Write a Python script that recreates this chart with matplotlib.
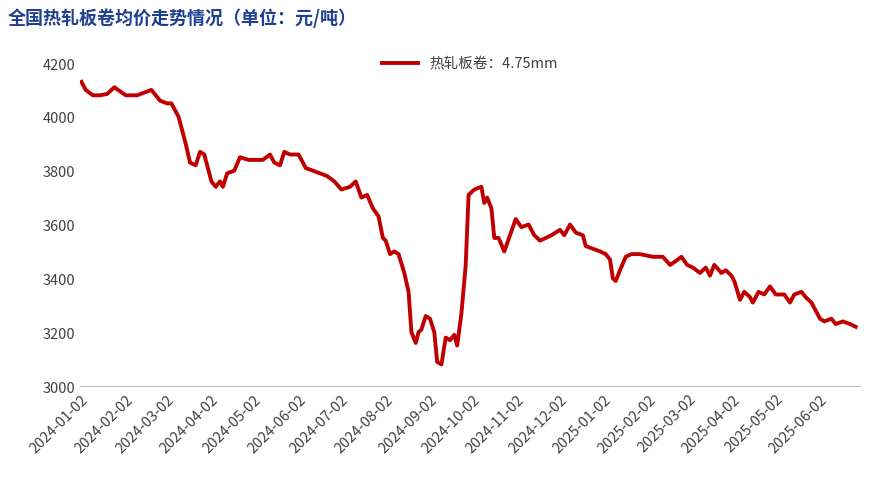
import matplotlib
matplotlib.use("Agg")
import matplotlib.pyplot as plt
import matplotlib.dates as mdates
import pandas as pd

plt.rcParams['font.family'] = ['Noto Sans CJK SC', 'DejaVu Sans']

dates = ["2024-01-02","2024-01-05","2024-01-10","2024-01-15","2024-01-20","2024-01-25","2024-02-02","2024-02-10","2024-02-20","2024-02-26",
"2024-03-02","2024-03-05","2024-03-10","2024-03-15","2024-03-18","2024-03-22","2024-03-25","2024-03-28","2024-04-02","2024-04-05",
"2024-04-08","2024-04-10","2024-04-13","2024-04-18","2024-04-22","2024-04-28","2024-05-02","2024-05-08","2024-05-13","2024-05-16",
"2024-05-20","2024-05-23","2024-05-27","2024-06-02","2024-06-07","2024-06-12","2024-06-17","2024-06-22","2024-06-27","2024-07-02",
"2024-07-08","2024-07-12","2024-07-16","2024-07-20","2024-07-24","2024-07-28","2024-07-31","2024-08-02","2024-08-05","2024-08-08",
"2024-08-11","2024-08-15","2024-08-18","2024-08-20","2024-08-23","2024-08-25","2024-08-27","2024-08-30","2024-09-02","2024-09-05",
"2024-09-07","2024-09-10","2024-09-13","2024-09-16","2024-09-19","2024-09-21","2024-09-24","2024-09-27","2024-09-29","2024-10-03",
"2024-10-08","2024-10-10","2024-10-12","2024-10-15","2024-10-17","2024-10-20","2024-10-24","2024-10-28","2024-11-01","2024-11-05",
"2024-11-10","2024-11-14","2024-11-18","2024-11-22","2024-11-26","2024-12-02","2024-12-05","2024-12-09","2024-12-13","2024-12-18",
"2024-12-20","2024-12-25","2024-12-30","2025-01-03","2025-01-06","2025-01-08","2025-01-10","2025-01-13","2025-01-17","2025-01-21",
"2025-01-27","2025-02-05","2025-02-12","2025-02-17","2025-02-20","2025-02-25","2025-03-01","2025-03-05","2025-03-10","2025-03-14",
"2025-03-17","2025-03-20","2025-03-25","2025-03-28","2025-04-01","2025-04-03","2025-04-07","2025-04-10","2025-04-14","2025-04-16",
"2025-04-20","2025-04-24","2025-04-28","2025-05-02","2025-05-08","2025-05-12","2025-05-15","2025-05-20","2025-05-23","2025-05-27",
"2025-05-30","2025-06-02","2025-06-05","2025-06-10","2025-06-13","2025-06-18","2025-06-23","2025-06-27"]
prices = [4130,4100,4080,4080,4085,4110,4080,4080,4100,4060,
4050,4050,4000,3900,3830,3820,3870,3860,3760,3740,
3760,3740,3790,3800,3850,3840,3840,3840,3860,3830,
3820,3870,3860,3860,3810,3800,3790,3780,3760,3730,
3740,3760,3700,3710,3660,3630,3550,3540,3490,3500,
3490,3420,3350,3200,3160,3200,3210,3260,3250,3200,
3090,3080,3180,3170,3190,3150,3270,3450,3710,3730,
3740,3680,3700,3660,3550,3550,3500,3560,3620,3590,
3600,3560,3540,3550,3560,3580,3560,3600,3570,3560,
3520,3510,3500,3490,3470,3400,3390,3430,3480,3490,
3490,3480,3480,3450,3460,3480,3450,3440,3420,3440,
3410,3450,3420,3430,3410,3390,3320,3350,3330,3310,
3350,3340,3370,3340,3340,3310,3340,3350,3330,3310,
3280,3250,3240,3250,3230,3240,3230,3220]
tick_labels = ["2024-01-02","2024-02-02","2024-03-02","2024-04-02","2024-05-02","2024-06-02","2024-07-02","2024-08-02","2024-09-02",
"2024-10-02","2024-11-02","2024-12-02","2025-01-02","2025-02-02","2025-03-02","2025-04-02","2025-05-02","2025-06-02"]

x = pd.to_datetime(dates)
fig = plt.figure(figsize=(8.79, 4.85), dpi=100)
ax = fig.add_axes([80/879, 1-387/485, 780/879, 323/485])
ax.plot(x, prices, color='#c00000', lw=2.8, label='热轧板卷：4.75mm')
ax.set_ylim(3000, 4200)
ax.set_yticks(range(3000, 4201, 200))
ax.set_xlim(pd.Timestamp("2024-01-01"), pd.Timestamp("2025-06-30"))
ax.set_xticks(pd.to_datetime(tick_labels))
ax.set_xticklabels(tick_labels, rotation=45, ha='right', rotation_mode='anchor')
for s in ['top', 'right', 'left']:
    ax.spines[s].set_visible(False)
ax.spines['bottom'].set_color('#bfbfbf')
ax.tick_params(axis='y', length=0, labelsize=10.5, colors='#404040')
ax.tick_params(axis='x', length=0, labelsize=10.5, colors='#404040', pad=4)
ax.legend(loc='upper center', bbox_to_anchor=(0.5, 1.06), frameon=False, fontsize=10.5, labelcolor='#404040', handlelength=2.5)
fig.text(8/879, 1-18/485, '全国热轧板卷均价走势情况（单位：元/吨）', fontsize=13, fontweight='bold', color='#1f3f8f', va='center')
fig.savefig('out.png', dpi=100)
